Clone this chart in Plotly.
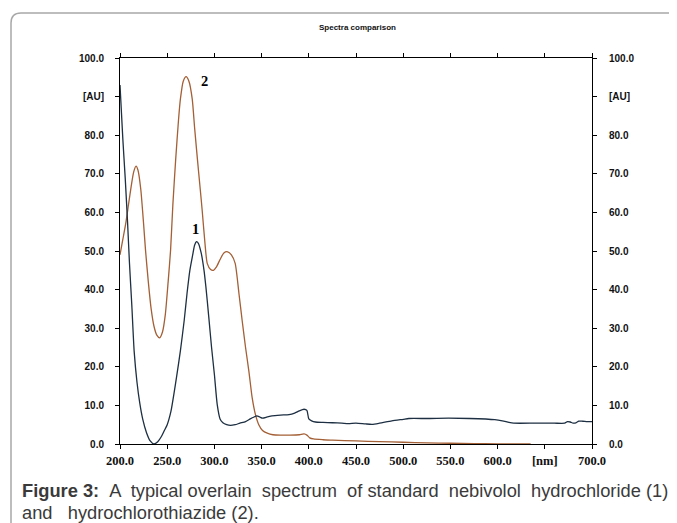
import plotly.graph_objects as go

# ---- data ----
wl_1 = [200, 203, 205.5, 208, 210, 212.5, 215, 218, 221, 224, 228, 232, 236, 240, 244, 247, 250,
        254, 257, 260, 264, 268, 271, 274, 277, 279, 281, 283, 286, 289, 291, 294, 297, 300, 303,
        306, 309, 313, 317, 322, 327, 333, 338, 342, 345, 348, 351, 356, 361, 370, 379, 385, 390,
        395, 398, 400, 403, 407, 415, 425, 435, 442, 450, 460, 467, 475, 488, 500, 506, 527, 548,
        570, 597, 605, 612, 617, 640, 660, 671, 674, 677, 680, 683, 686, 690, 695, 700]
abs_1 = [93, 79, 69, 57.5, 47, 36, 24, 16, 10.5, 6.5, 3, 0.8, 0, 0.6, 2, 3.5, 5,
         8.5, 12.8, 17.5, 24.2, 32, 39, 45, 49, 51.5, 52.4, 52, 49.5, 45, 40.7, 33, 25, 18, 10.2,
         6.5, 5.5, 5, 4.8, 5, 5.4, 5.8, 6.5, 7, 7.3, 7, 6.7, 7, 7.3, 7.5, 7.6, 8, 8.6,
         9, 8.7, 6.5, 6, 5.7, 5.6, 5.5, 5.4, 5.3, 5.4, 5.2, 5.1, 5.4, 6, 6.4, 6.6, 6.6, 6.7,
         6.6, 6.3, 6.0, 5.6, 5.4, 5.4, 5.4, 5.4, 5.8, 5.7, 5.4, 5.5, 5.9, 5.9, 5.8, 5.8]

wl_2 = [200, 203, 206, 209, 212, 214.5, 217, 219, 222, 225, 227, 230, 233, 236, 239, 242, 245,
        248, 251, 253.6, 256, 259, 262, 264, 267, 270, 273, 276.5, 279, 282, 285, 287, 290,
        292.4, 296, 299, 302, 306, 310, 314, 318, 322, 326, 329.4, 333, 336.5, 340, 343.5, 347,
        351, 356, 362, 370, 380, 390, 395, 398, 401, 405, 415, 425, 450, 475, 500, 525, 550,
        575, 600, 625, 635]
abs_2 = [49, 53, 57, 62, 67, 70.5, 72, 71, 66, 57, 50.3, 42, 35, 30.5, 28.2, 27.5, 29,
         33.5, 42, 50.3, 62, 73.8, 84, 89.4, 94, 95.2, 94, 89.4, 82, 73.8, 66, 60.7, 52,
         46.8, 45.2, 45, 45.8, 47.8, 49.5, 49.8, 49, 46.8, 39, 32, 25, 18.9, 12, 7.6, 5.0,
         3.5, 2.8, 2.4, 2.3, 2.3, 2.4, 2.6, 2.3, 1.6, 1.3, 1.1, 1.0, 0.8, 0.6, 0.45, 0.3, 0.2,
         0.12, 0.05, 0.01, 0]

x_tick_vals = [200, 250, 300, 350, 400, 450, 500, 550, 600, 650, 700]
x_tick_text = ["200.0", "250.0", "300.0", "350.0", "400.0", "450.0", "500.0", "550.0",
               "600.0", "[nm]", "700.0"]
y_tick_vals = [0, 10, 20, 30, 40, 50, 60, 70, 80, 90, 100]
y_tick_text = ["0.0", "10.0", "20.0", "30.0", "40.0", "50.0", "60.0", "70.0", "80.0",
               "[AU]", "100.0"]

title_text = "Spectra comparison"
caption_1_words = ["<b>Figure 3:</b>", "A", "typical", "overlain", "spectrum", "of", "standard",
                   "nebivolol", "hydrochloride", "(1)"]
caption_2 = "and  hydrochlorothiazide (2)."

# ---- layout geometry (pixels, page coords; page body has an 8px offset) ----
OFF = 8
W, H = 677, 523
PL, PR, PT, PB = 120, 592, 58, 444          # plot box in page pixels
L, T = PL - OFF, PT - OFF
pw, ph = PR - PL, PB - PT
R = W - L - pw
B = H - T - ph


def px(x):
    return (x - OFF - L) / pw


def py(y):
    return (T + ph - (y - OFF)) / ph


navy = "#1d2f42"
brown = "#a35f35"

fig = go.Figure()
fig.add_trace(go.Scatter(x=wl_2, y=abs_2, mode="lines",
                         line=dict(color=brown, width=1.3, shape="spline", smoothing=0.6),
                         showlegend=False, hoverinfo="skip"))
fig.add_trace(go.Scatter(x=wl_1, y=abs_1, mode="lines",
                         line=dict(color=navy, width=1.3, shape="spline", smoothing=0.6),
                         showlegend=False, hoverinfo="skip"))
fig.add_trace(go.Scatter(x=[None], y=[None], yaxis="y2", showlegend=False, hoverinfo="skip"))

tickfont_y = dict(family="Liberation Sans, Arial", size=10, color="#111111")
ytext = ["<b>%s</b>" % t for t in y_tick_text]

fig.update_layout(
    width=W, height=H,
    margin=dict(l=L, r=R, t=T, b=B, pad=0),
    paper_bgcolor="white", plot_bgcolor="white",
    showlegend=False,
    xaxis=dict(range=[200, 700], tickmode="array", tickvals=x_tick_vals,
               ticktext=["<b>%s</b>" % t for t in x_tick_text],
               tickfont=dict(family="Liberation Serif, Times New Roman", size=12.5, color="#111111"),
               ticks="outside", ticklen=4, tickwidth=1, tickcolor="black",
               showline=True, linecolor="black", linewidth=1, mirror="ticks",
               showgrid=False, zeroline=False, ticklabelstandoff=1),
    yaxis=dict(range=[0, 100], tickmode="array", tickvals=y_tick_vals, ticktext=ytext,
               tickfont=tickfont_y, ticks="outside", ticklen=4, tickwidth=1, tickcolor="black",
               showline=True, linecolor="black", linewidth=1,
               showgrid=False, zeroline=False, ticklabelstandoff=9),
    yaxis2=dict(range=[0, 100], overlaying="y", side="right", anchor="x",
                tickmode="array", tickvals=y_tick_vals, ticktext=ytext,
                tickfont=tickfont_y, ticks="outside", ticklen=4, tickwidth=1, tickcolor="black",
                showline=True, linecolor="black", linewidth=1,
                showgrid=False, zeroline=False, ticklabelstandoff=10),
)

# card border with rounded top-left corner
r = 10
path = (f"M {px(11)} {py(560)} L {px(11)} {py(13 + r)} "
        f"Q {px(11)} {py(13)} {px(11 + r)} {py(13)} L {px(720)} {py(13)}")
fig.add_shape(type="path", path=path, xref="paper", yref="paper",
              line=dict(color="#a8a8a8", width=1.5), layer="below")

# justified first caption line: extra no-break space in some gaps
wide_gaps = {0, 1, 3, 4, 6, 7}
cap1 = caption_1_words[0]
for i, w in enumerate(caption_1_words[1:]):
    cap1 += (" \u00a0" if i in wide_gaps else " ") + w

cap_font = dict(family="Liberation Sans, Arial", size=18.3, color="#3a3a3a")
annotations = [
    dict(text="<b>%s</b>" % title_text, x=px(357), y=py(28), xref="paper", yref="paper",
         showarrow=False, xanchor="center", yanchor="middle",
         font=dict(family="Liberation Sans, Arial", size=8, color="#111111")),
    dict(text="<b>1</b>", x=280.5, y=55.6, xref="x", yref="y", showarrow=False,
         xanchor="center", yanchor="middle",
         font=dict(family="Liberation Serif, Times New Roman", size=14.5, color="black")),
    dict(text="<b>2</b>", x=289, y=94.1, xref="x", yref="y", showarrow=False,
         xanchor="center", yanchor="middle",
         font=dict(family="Liberation Serif, Times New Roman", size=14.5, color="black")),
    dict(text=cap1, x=px(20), y=py(490), xref="paper", yref="paper",
         showarrow=False, xanchor="left", yanchor="middle", font=cap_font),
    dict(text=caption_2.replace("  ", " \u00a0\u00a0"), x=px(20), y=py(512), xref="paper",
         yref="paper", showarrow=False, xanchor="left", yanchor="middle", font=cap_font),
]
fig.update_layout(annotations=annotations)

fig.write_html("out.html",
               post_script="document.documentElement.style.overflow='hidden';"
                           "document.body.style.overflow='hidden';")
